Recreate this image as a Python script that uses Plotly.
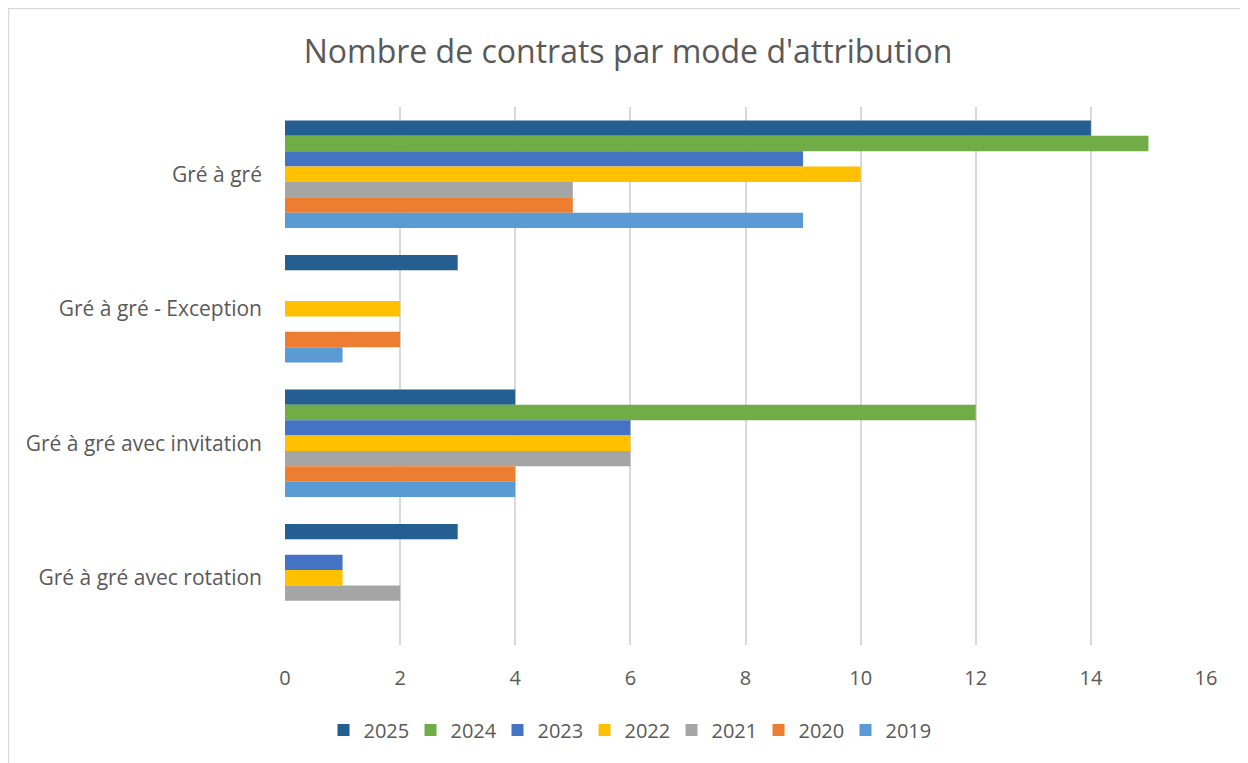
import plotly.graph_objects as go

categories = ["Gré à gré", "Gré à gré - Exception", "Gré à gré avec invitation", "Gré à gré avec rotation"]
years = ["2025", "2024", "2023", "2022", "2021", "2020", "2019"]
v2025 = [14, 3, 4, 3]
v2024 = [15, 0, 12, 0]
v2023 = [9, 0, 6, 1]
v2022 = [10, 2, 6, 1]
v2021 = [5, 0, 6, 2]
v2020 = [5, 2, 4, 0]
v2019 = [9, 1, 4, 0]
series = [v2025, v2024, v2023, v2022, v2021, v2020, v2019]
colors = ["#255E91", "#70AD47", "#4472C4", "#FFC000", "#A5A5A5", "#ED7D31", "#5B9BD5"]

fig = go.Figure()
for name, vals, c in zip(years, series, colors):
    fig.add_trace(go.Bar(y=categories, x=vals, name=name, orientation="h",
                         marker=dict(color=c, line=dict(width=0))))

# page has an 8px body margin; figure drawn at (8, 8)
W, H = 1240, 755
l, r, t, b = 277, 42, 99, 118
pw, ph = W - l - r, H - t - b

def px(x):
    return (x - l) / pw

def py(y):
    return (H - b - y) / ph

fig.update_layout(
    width=W, height=H,
    margin=dict(l=l, r=r, t=t, b=b),
    paper_bgcolor="white", plot_bgcolor="white",
    barmode="group", bargap=0.2, bargroupgap=0,
    font=dict(family="Open Sans", color="#595959"),
    title=dict(text="Nombre de contrats par mode d'attribution", x=0.5, xref="container",
               xanchor="center", y=1 - 44 / H, yanchor="middle",
               font=dict(size=32, color="#595959", family="Open Sans")),
    xaxis=dict(range=[0, 16], dtick=2, showgrid=True, gridcolor="#D9D9D9", gridwidth=1.5,
               zeroline=False, showline=False, ticks="",
               tickfont=dict(size=20, color="#595959"), ticklabelstandoff=19),
    yaxis=dict(autorange="reversed", showgrid=False, showline=False, ticks="",
               tickfont=dict(size=21, color="#595959"), ticklabelstandoff=22),
    legend=dict(orientation="h", x=0.5, xanchor="center", xref="container",
                y=1 - 722 / H, yref="container", yanchor="middle",
                font=dict(size=20, color="#595959"), itemwidth=30, entrywidth=42,
                traceorder="normal"),
    shapes=[dict(type="rect", xref="paper", yref="paper",
                 x0=px(0.5), x1=px(1238), y0=py(760), y1=py(0.5),
                 line=dict(color="#D9D9D9", width=1.5), layer="below")],
)
fig.write_html("out.html")
